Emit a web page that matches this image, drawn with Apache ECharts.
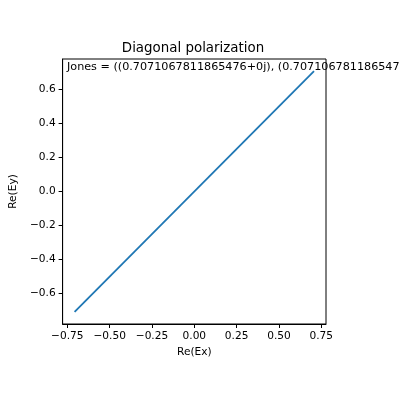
<!DOCTYPE html>
<html>
<head>
<meta charset="utf-8">
<script src="https://cdn.jsdelivr.net/npm/echarts@6/dist/echarts.min.js"></script>
<style>html,body{margin:0;padding:0;background:#fff}#c{width:400px;height:400px}</style>
</head>
<body>
<div id="c"></div>
<script>
var titleText = 'Diagonal polarization';
var jonesText = 'Jones = ((0.7071067811865476+0j), (0.7071067811865476+0j))';
var xName = 'Re(Ex)';
var yName = 'Re(Ey)';
var exValues = [-0.7071067811865476, 0.7071067811865476];
var eyValues = [-0.7071067811865476, 0.7071067811865476];
var xTicks = [-0.75, -0.5, -0.25, 0, 0.25, 0.5, 0.75];
var yTicks = [-0.6, -0.4, -0.2, 0, 0.2, 0.4, 0.6];
var axisMin = -0.7778;
var axisMax = 0.7778;

var FONT = 'DejaVu Sans';
function fmt(v, d) {
  var s = Math.abs(v).toFixed(d);
  return (v < -1e-9 ? '\u2212' : '') + s;
}
var chart = echarts.init(document.getElementById('c'), null, {renderer: 'canvas'});
var data = exValues.map(function (x, i) { return [x, eyValues[i]]; });
function axisCommon(ticks, dec) {
  return {
    type: 'value', min: axisMin, max: axisMax,
    axisLine: {show: true, onZero: false, lineStyle: {color: '#000', width: 1}},
    axisTick: {show: true, inside: false, length: 4, customValues: ticks, lineStyle: {color: '#000', width: 1}},
    axisLabel: {show: true, customValues: ticks, margin: 7, color: '#000', fontFamily: FONT, fontSize: 10.6,
      formatter: function (v) { return fmt(v, dec); }},
    splitLine: {show: false},
    nameLocation: 'middle',
    nameTextStyle: {color: '#000', fontFamily: FONT, fontSize: 10.6}
  };
}
var xa = axisCommon(xTicks, 2); xa.name = xName; xa.nameGap = 21;
var ya = axisCommon(yTicks, 1); ya.name = yName; ya.nameGap = 40;
chart.setOption({
  animation: false,
  title: [
    {text: titleText, left: 188, top: 37, textAlign: 'center',
     textStyle: {fontFamily: FONT, fontSize: 13.4, fontWeight: 'normal', color: '#000'}},
    {text: jonesText, left: 62, top: 57, padding: [5, 5],
     textStyle: {fontFamily: FONT, fontSize: 11.2, fontWeight: 'normal', color: '#000'}}
  ],
  grid: {left: 61, top: 59, width: 265, height: 265, show: true, borderColor: '#000', borderWidth: 1, backgroundColor: 'transparent', containLabel: false},
  xAxis: xa,
  yAxis: ya,
  series: [{
    type: 'line', data: data, showSymbol: false, symbol: 'none',
    lineStyle: {color: '#1f77b4', width: 1.8}, clip: false
  }]
});
</script>
</body>
</html>
